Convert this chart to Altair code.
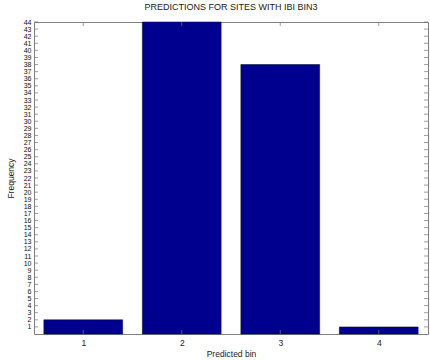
import altair as alt
import pandas as pd

# Predicted bin counts for sites with IBI bin 3
bins = [1, 2, 3, 4]
counts = [2, 44, 38, 1]
y_ticks = list(range(1, 45))

BAR_HALF = 0.4
FONT = "Liberation Sans"

bars_df = pd.DataFrame({"bin": bins, "count": counts})
ytick_df = pd.DataFrame({"v": y_ticks})
xtick_df = pd.DataFrame({"b": bins})

x_scale = alt.Scale(domain=[0.5, 4.5], nice=False, zero=False)
y_scale = alt.Scale(domain=[0, 44], nice=False)

x_axis = alt.Axis(
    values=bins,
    format="d",
    grid=False,
    ticks=False,
    domain=False,
    labelFontSize=8.5,
    labelPadding=4,
    titleFontSize=8.5,
    titleFontWeight="normal",
    titlePadding=3,
    labelFont=FONT,
    titleFont=FONT,
    labelColor="#222",
    titleColor="#222",
)
y_axis = alt.Axis(
    values=y_ticks,
    grid=False,
    ticks=False,
    domain=False,
    labelFontSize=7,
    labelOverlap=False,
    labelPadding=3,
    labelFont=FONT,
    titleFont=FONT,
    titleFontSize=8.5,
    titleFontWeight="normal",
    titlePadding=8,
    labelColor="#111",
    titleColor="#222",
)

X_TITLE = "Predicted bin"
Y_TITLE = "Frequency"

bars = (
    alt.Chart(bars_df)
    .transform_calculate(lo=f"datum.bin - {BAR_HALF}", hi=f"datum.bin + {BAR_HALF}")
    .mark_bar(color="#00008f", stroke="#000033", strokeWidth=0.5)
    .encode(
        x=alt.X("lo:Q", scale=x_scale, title=X_TITLE, axis=x_axis),
        x2="hi:Q",
        y=alt.Y("count:Q", scale=y_scale, title=Y_TITLE, axis=y_axis),
        y2=alt.datum(0),
    )
)

tick_style = dict(color="#777", strokeWidth=0.7)

left_ticks = alt.Chart(ytick_df).mark_rule(**tick_style).encode(
    y=alt.Y("v:Q", scale=y_scale, title=Y_TITLE, axis=y_axis),
    x=alt.value(0),
    x2=alt.value(4),
)
right_ticks = alt.Chart(ytick_df).mark_rule(**tick_style).encode(
    y=alt.Y("v:Q", scale=y_scale, title=Y_TITLE, axis=y_axis),
    x=alt.value(390),
    x2=alt.value(394),
)
bottom_ticks = alt.Chart(xtick_df).mark_rule(**tick_style).encode(
    x=alt.X("b:Q", scale=x_scale, title=X_TITLE, axis=x_axis),
    y=alt.value(312),
    y2=alt.value(308),
)
top_ticks = alt.Chart(xtick_df).mark_rule(**tick_style).encode(
    x=alt.X("b:Q", scale=x_scale, title=X_TITLE, axis=x_axis),
    y=alt.value(0),
    y2=alt.value(4),
)

chart = (
    alt.layer(bars, left_ticks, right_ticks, bottom_ticks, top_ticks)
    .properties(
        width=394,
        height=312,
        title=alt.TitleParams(
            "PREDICTIONS FOR SITES WITH IBI BIN3",
            fontSize=9,
            fontWeight="normal",
            font=FONT,
            color="#222",
            offset=6,
        ),
        autosize=alt.AutoSizeParams(type="none"),
        padding={"left": 34, "top": 22, "right": 2, "bottom": 26},
        background="white",
    )
    .configure_view(stroke="#808080", strokeWidth=1)
)

chart.save("out.html", embed_options={"renderer": "svg", "actions": False})
